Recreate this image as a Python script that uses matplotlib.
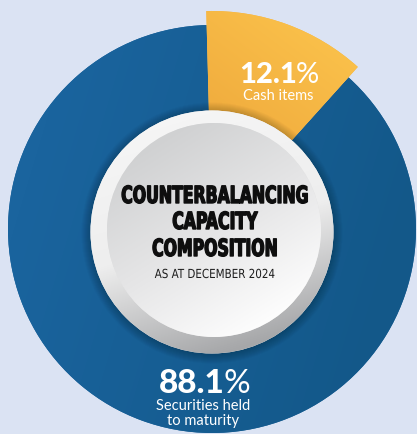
import numpy as np
import matplotlib.pyplot as plt
from matplotlib import patheffects
from matplotlib.colors import LinearSegmentedColormap
from matplotlib.patches import Wedge, Circle
from matplotlib.transforms import Affine2D

# composition shares (%)
labels = ["Cash items", "Securities held\nto maturity"]
values = [12.1, 88.1]
colors = ["#F6B342", "#17609A"]

title_lines = ["COUNTERBALANCING", "CAPACITY", "COMPOSITION"]
subtitle = "AS AT DECEMBER 2024"


class Squeeze(patheffects.AbstractPathEffect):
    """Narrow the glyphs horizontally around x0 (display px) and thicken them a bit."""

    def __init__(self, sx, x0, lw=0.0):
        super().__init__()
        self.sx, self.x0, self.lw = sx, x0, lw

    def draw_path(self, renderer, gc, tpath, affine, rgbFace=None):
        aff = affine + Affine2D().translate(-self.x0, 0).scale(self.sx, 1).translate(self.x0, 0)
        gc0 = renderer.new_gc()
        gc0.copy_properties(gc)
        if self.lw > 0:
            gc0.set_linewidth(self.lw)
            gc0.set_foreground(rgbFace)
        renderer.draw_path(gc0, tpath, aff, rgbFace)
        gc0.restore()


W, H = 417, 434
fig = plt.figure(figsize=(W / 100, H / 100), dpi=100)
fig.patch.set_facecolor("#DBE3F3")
ax = fig.add_axes([0, 0, 1, 1])
ax.set_xlim(0, W)
ax.set_ylim(0, H)
ax.set_aspect("equal")
ax.axis("off")

cx, cy = 212, H - 229
r_outer = 204
start = 91.5
total = sum(values)
span = [v / total * 360 for v in values]

# blue slice (securities) goes round from the end of the cash slice
blue = Wedge((cx, cy), r_outer, start, start - span[0] + 360,
             width=100, facecolor=colors[1], edgecolor="none", zorder=1)
ax.add_patch(blue)

# orange slice sticks out beyond the ring
orange = Wedge((cx, cy), r_outer + 14, start - span[0], start,
               width=114, facecolor=colors[0], edgecolor="none", zorder=2)
ax.add_patch(orange)

yy, xx = np.mgrid[0:H, 0:W]

# slight darkening of the blue towards the right
blue_img = ax.imshow((xx - cx) + 0.3 * (cy - yy), extent=(0, W, 0, H), origin="lower",
                     cmap=LinearSegmentedColormap.from_list("bl", ["#1A649E", "#135889"]),
                     vmin=-200, vmax=200, zorder=1.1)
blue_img.set_clip_path(blue)

# soft shading on the orange slice
img = ax.imshow((xx - cx) * 0.6 + (yy - cy) * 0.8, extent=(0, W, 0, H), origin="lower",
                cmap=LinearSegmentedColormap.from_list("or", ["#EA9F36", "#FAC04A"]),
                vmin=0, vmax=220, zorder=2.1)
img.set_clip_path(orange)

# faint halo around the middle disc
dx, dy = 212, H - 232
for k in range(10):
    ax.add_patch(Circle((dx, dy - 1), 121.5 + k, facecolor="black",
                        alpha=0.025, edgecolor="none", zorder=3))

# middle disc: bevelled rim and gradient face
rim = Circle((dx, dy), 121.5, facecolor="#EEEEEE", edgecolor="none", zorder=4)
ax.add_patch(rim)
rim_grad = ax.imshow(-(yy - dy) + 0.3 * (xx - dx), extent=(0, W, 0, H), origin="lower",
                     cmap=LinearSegmentedColormap.from_list(
                         "rim", ["#F5F5F5", "#EEEEEE", "#A6A7A9"]),
                     vmin=-120, vmax=125, zorder=4.1)
rim_grad.set_clip_path(rim)

fx, fy = 214, H - 230
face = Circle((fx, fy), 107, facecolor="#E2E2E2", edgecolor="none", zorder=5)
ax.add_patch(face)
face_grad = ax.imshow(-(yy - fy) * 0.8 + (xx - fx) * 0.5, extent=(0, W, 0, H), origin="lower",
                      cmap=LinearSegmentedColormap.from_list(
                          "face", ["#D0D1D2", "#E6E6E7", "#FFFFFF"]),
                      vmin=-100, vmax=110, zorder=5.1)
face_grad.set_clip_path(face)

# title in the middle (narrow heavy lettering)
tx = 215
x0 = ax.transData.transform((tx, 0))[0]
for line, base in zip(title_lines, [203, 229, 256]):
    ax.text(tx, H - base, line, ha="center", va="baseline", fontsize=17,
            family="DejaVu Sans", fontstretch="condensed", weight="bold",
            color="#0E0E0E", zorder=6,
            path_effects=[Squeeze(0.74, x0, lw=1.0)])
ax.text(tx, H - 278, subtitle, ha="center", va="baseline", fontsize=9,
        family="DejaVu Sans", fontstretch="condensed", color="#1E1E1E", zorder=6,
        path_effects=[Squeeze(0.92, x0)])

# slice labels
ax.text(297, H - 83, "12.1", ha="right", va="baseline", fontsize=21,
        family="Lato", weight="black", color="white", zorder=6)
ax.text(296, H - 83, "%", ha="left", va="baseline", fontsize=21,
        family="Lato", weight="normal", color="white", zorder=6)
ax.text(278, H - 100, labels[0], ha="center", va="baseline", fontsize=10.5,
        family="Lato", color="white", zorder=6)

ax.text(225, H - 393, "88.1", ha="right", va="baseline", fontsize=24,
        family="Lato", weight="black", color="white", zorder=6)
ax.text(224, H - 393, "%", ha="left", va="baseline", fontsize=24,
        family="Lato", weight="normal", color="white", zorder=6)
sec = labels[1].split("\n")
ax.text(203, H - 410, sec[0], ha="center", va="baseline", fontsize=10.5,
        family="Lato", color="white", zorder=6)
ax.text(203, H - 425, sec[1], ha="center", va="baseline", fontsize=10.5,
        family="Lato", color="white", zorder=6)

fig.savefig("out.png", dpi=100, facecolor=fig.get_facecolor())
